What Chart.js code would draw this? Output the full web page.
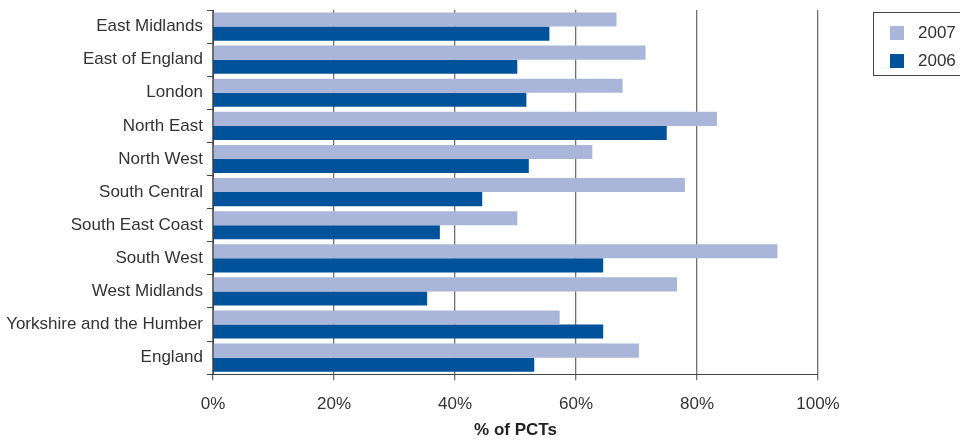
<!DOCTYPE html>
<html>
<head>
<meta charset="utf-8">
<script src="https://cdn.jsdelivr.net/npm/chart.js@4.4.0/dist/chart.umd.min.js"></script>
<style>
  html, body { margin: 0; padding: 0; background: #fff; }
  #wrap { position: relative; width: 960px; height: 442px; }
  #legend {
    position: absolute; left: 873px; top: 12px; width: 100px; height: 64px;
    border: 1px solid #444; box-sizing: border-box;
    font-family: "Liberation Sans", Arial, sans-serif; font-size: 17px; color: #333;
  }
  #legend .item { position: absolute; left: 16px; height: 18px; line-height: 18px; }
  #legend .box { display: inline-block; width: 14px; height: 14px; vertical-align: top; margin-top: 2px; margin-right: 14px; }
</style>
</head>
<body>
<div id="wrap">
  <canvas id="myChart" width="960" height="442"></canvas>
  <div id="legend"></div>
</div>
<script>
const regions = ['East Midlands', 'East of England', 'London', 'North East', 'North West',
  'South Central', 'South East Coast', 'South West', 'West Midlands',
  'Yorkshire and the Humber', 'England'];
const values2007 = [66.7, 71.5, 67.7, 83.3, 62.7, 78.0, 50.3, 93.3, 76.7, 57.3, 70.4];
const values2006 = [55.6, 50.3, 51.8, 75.0, 52.2, 44.5, 37.5, 64.5, 35.4, 64.5, 53.1];
const xTicks = [0, 20, 40, 60, 80, 100];

const seriesNames = ['2007', '2006'];
const colors = ['#a9b6d9', '#00529b'];

const ctx = document.getElementById('myChart');
const myChart = new Chart(ctx, {
  type: 'bar',
  data: {
    labels: regions,
    datasets: [
      { label: seriesNames[0], data: values2007, backgroundColor: colors[0] },
      { label: seriesNames[1], data: values2006, backgroundColor: colors[1] }
    ]
  },
  options: {
    indexAxis: 'y',
    responsive: false,
    animation: false,
    layout: { padding: { left: 6, right: 142, top: 10, bottom: 1 } },
    datasets: { bar: { categoryPercentage: 0.85, barPercentage: 1.0 } },
    plugins: {
      legend: { display: false },
      tooltip: { enabled: false }
    },
    scales: {
      x: {
        min: 0,
        max: 100,
        afterBuildTicks(scale) {
          scale.ticks = xTicks.map(v => ({ value: v }));
        },
        ticks: {
          callback: v => v + '%',
          color: '#333',
          padding: 14,
          font: { family: 'Liberation Sans', size: 17 }
        },
        grid: { color: '#707070', lineWidth: 1.3, tickLength: 6 },
        border: { color: '#444', width: 1 },
        title: {
          display: true,
          text: '% of PCTs',
          color: '#222',
          padding: { top: -8, bottom: 0 },
          font: { family: 'Liberation Sans', size: 17, weight: 'bold' }
        }
      },
      y: {
        afterFit(scale) {
          scale.width = 207;
          scale.paddingTop = 0;
          scale.paddingBottom = 0;
        },
        ticks: {
          color: '#333',
          padding: 4,
          font: { family: 'Liberation Sans', size: 17 }
        },
        grid: { drawOnChartArea: false, color: '#444', tickLength: 6, offset: true },
        border: { color: '#444', width: 1 }
      }
    }
  }
});

// legend from the datasets
const legend = document.getElementById('legend');
myChart.data.datasets.forEach((ds, i) => {
  const item = document.createElement('div');
  item.className = 'item';
  item.style.top = (11 + i * 28) + 'px';
  item.innerHTML = '<span class="box" style="background:' + ds.backgroundColor + '"></span>' + ds.label;
  legend.appendChild(item);
});
</script>
</body>
</html>
